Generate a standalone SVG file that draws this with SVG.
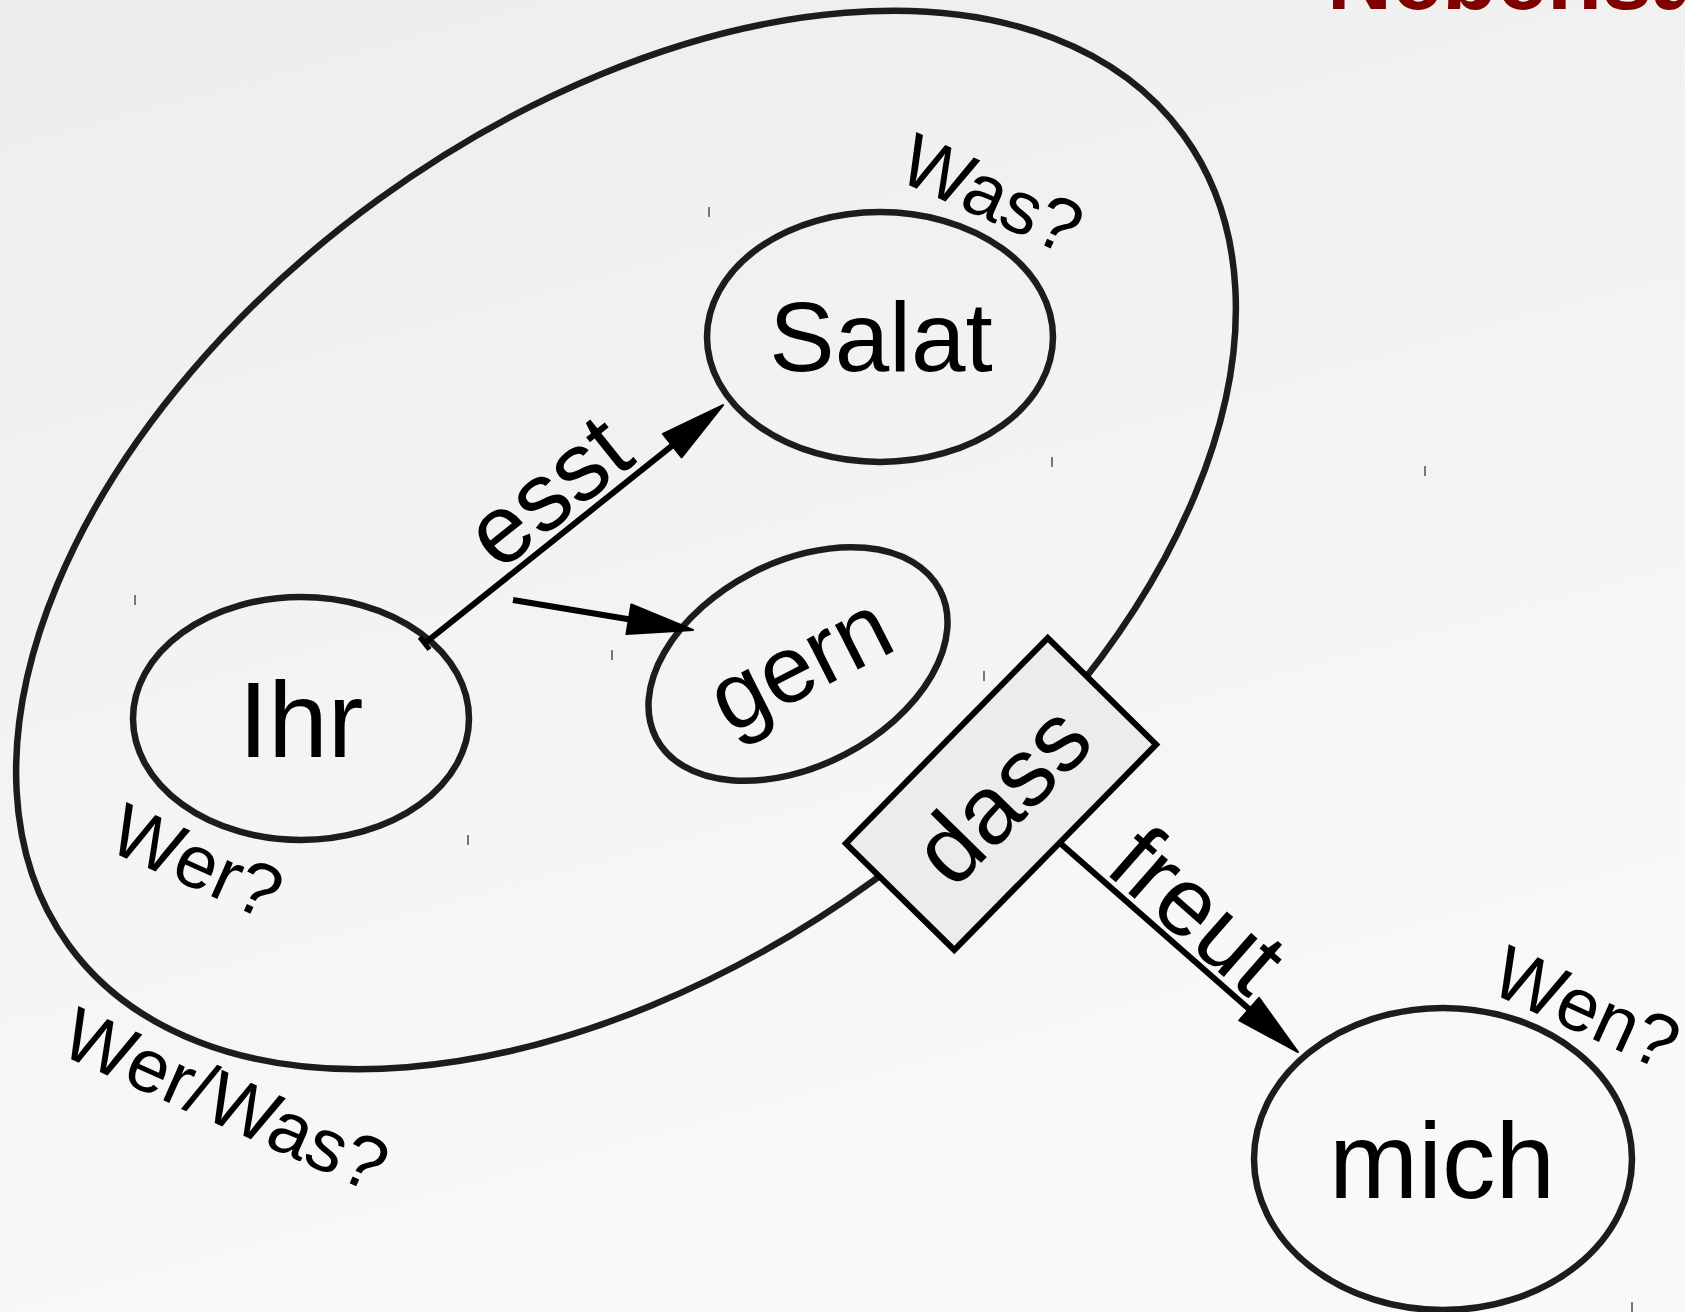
<svg xmlns="http://www.w3.org/2000/svg" width="1685" height="1312" viewBox="0 0 1685 1312">
<defs>
<linearGradient id="bg" x1="0" y1="0" x2="0.35" y2="1">
<stop offset="0" stop-color="#ededed"/>
<stop offset="1" stop-color="#f9f9f9"/>
</linearGradient>
<marker id="arrow" markerUnits="userSpaceOnUse" markerWidth="70" markerHeight="34" viewBox="-2 -2 69 34" refX="50" refY="15" orient="auto">
<path d="M0,0 L65,15 L0,30 Z" fill="#000" stroke="#000" stroke-width="2" stroke-linejoin="round"/>
</marker>
<marker id="tick" markerUnits="userSpaceOnUse" markerWidth="8" markerHeight="16" viewBox="0 0 8 16" refX="4" refY="8" orient="auto">
<rect x="1" y="0" width="5" height="16" fill="#000"/>
</marker>
</defs>
<style>
.txt{font-family:"Liberation Sans",Arial,sans-serif;fill:#000}
.node{fill:none;stroke:#1c1c1c;stroke-width:6.5}
.q{font-family:"Liberation Sans",Arial,sans-serif;font-size:75px;fill:#000}
.edge{fill:none;stroke:#000;stroke-width:6}
.lbl{font-family:"Liberation Sans",Arial,sans-serif;font-size:97px;fill:#000;text-anchor:middle}
.mk{stroke:#777;stroke-width:2}
</style>
<rect x="0" y="0" width="1685" height="1312" fill="url(#bg)"/>
<text x="1327" y="9" style="font-family:'Liberation Sans',Arial,sans-serif;font-size:90px;font-weight:bold;fill:#800000">Nebensatz</text>
<g id="ticks">
<line class="mk" x1="709" y1="207" x2="709" y2="217"/>
<line class="mk" x1="1052" y1="457" x2="1052" y2="467"/>
<line class="mk" x1="1425" y1="466" x2="1425" y2="476"/>
<line class="mk" x1="135" y1="595" x2="135" y2="605"/>
<line class="mk" x1="612" y1="650" x2="612" y2="660"/>
<line class="mk" x1="984" y1="671" x2="984" y2="681"/>
<line class="mk" x1="468" y1="835" x2="468" y2="845"/>
<line class="mk" x1="1632" y1="1302" x2="1632" y2="1312"/>
</g>
<g id="nebensatz">
<ellipse class="node" cx="626" cy="540" rx="689" ry="421" transform="rotate(-36 626 540)"/>
<text class="q" transform="translate(57 1053) rotate(24)">Wer/Was?</text>
</g>
<g id="salat">
<ellipse class="node" cx="880" cy="337" rx="173" ry="125"/>
<text class="txt" x="881" y="371" font-size="98" text-anchor="middle">Salat</text>
<text class="q" transform="translate(895 179) rotate(24)">Was?</text>
</g>
<g id="ihr">
<ellipse class="node" cx="301" cy="718.5" rx="168" ry="121.5"/>
<text class="txt" x="301" y="757" font-size="107" text-anchor="middle">Ihr</text>
<text class="q" transform="translate(105 849) rotate(24)">Wer?</text>
</g>
<g id="gern">
<ellipse class="node" cx="798" cy="664" rx="160" ry="102" transform="rotate(-27.5 798 664)"/>
<text class="txt" font-size="95" text-anchor="middle" transform="translate(798 664) rotate(-27)" x="2" y="32">gern</text>
</g>
<g id="mich">
<ellipse class="node" cx="1443" cy="1159" rx="189" ry="151"/>
<text class="txt" x="1442" y="1198" font-size="107" text-anchor="middle">mich</text>
<text class="q" transform="translate(1487 991) rotate(24.5)">Wen?</text>
</g>
<g id="connectors">
<g id="e-esst">
<line class="edge" x1="425" y1="643" x2="711.3" y2="414.4" marker-start="url(#tick)" marker-end="url(#arrow)"/>
<text class="lbl" transform="translate(568.5 516.9) rotate(-38.7)">esst</text>
</g>
<g id="e-gern">
<line class="edge" x1="513" y1="600" x2="678.2" y2="627.5" marker-end="url(#arrow)"/>
</g>
<g id="e-freut">
<line class="edge" x1="1060" y1="843" x2="1286.7" y2="1042.1" marker-end="url(#arrow)"/>
<text class="lbl" transform="translate(1176 935) rotate(41.3)">freut</text>
</g>
</g>
<g id="dass">
<rect x="-144" y="-76" width="288" height="152" fill="#ececec" stroke="#000" stroke-width="6" stroke-linejoin="miter" transform="translate(1001 794) rotate(-45.5)"/>
<text class="lbl" transform="translate(1001 794) rotate(-45.5)" x="0" y="34">dass</text>
</g>
</svg>
